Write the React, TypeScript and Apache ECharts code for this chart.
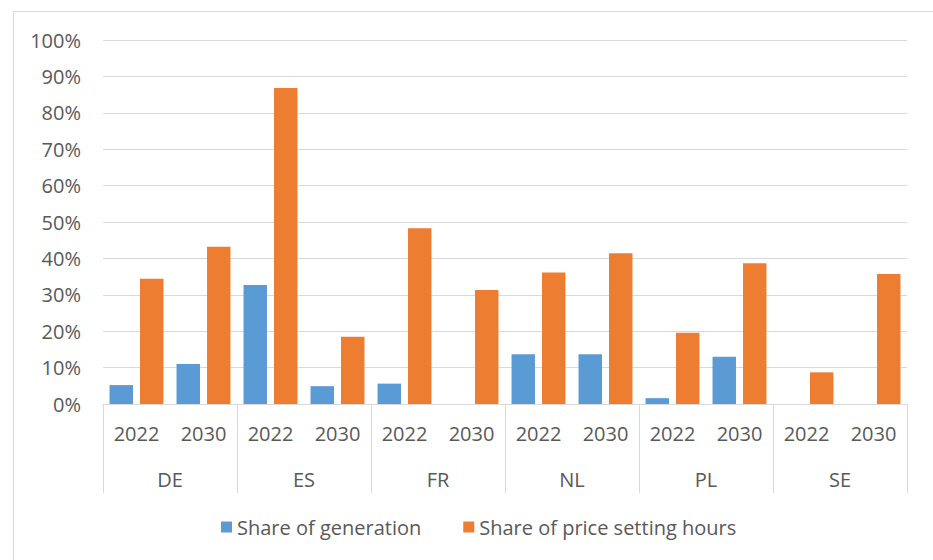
import React, { useEffect, useRef } from "react";
import * as echarts from "echarts";

const countries = ["DE", "ES", "FR", "NL", "PL", "SE"];
const years = ["2022", "2030"];
const shareOfGeneration = [5.2, 11.0, 32.7, 4.9, 5.6, 0, 13.7, 13.7, 1.6, 13.0, 0, 0];
const shareOfPriceSettingHours = [34.4, 43.2, 86.8, 18.5, 48.3, 31.3, 36.1, 41.4, 19.6, 38.7, 8.7, 35.7];
const yTicks = { min: 0, max: 100, interval: 10 };

const FONT = "Open Sans";
const TXT = "#595959";
const GRID = "#d9d9d9";
const FS = 20;

export default function App() {
  const ref = useRef<HTMLDivElement>(null);
  useEffect(() => {
    if (!ref.current) return;
    const chart = echarts.init(ref.current, undefined, { renderer: "svg" });
    const cats: string[] = [];
    countries.forEach((c) => years.forEach((y) => cats.push(c + "-" + y)));
    chart.setOption({
      animation: false,
      backgroundColor: "#ffffff",
      textStyle: { fontFamily: FONT },
      grid: { left: 103, right: 26, top: 40, bottom: 156 },
      graphic: [
        { type: "line", shape: { x1: 13, y1: 11.5, x2: 933, y2: 11.5 }, style: { stroke: GRID, lineWidth: 1 } },
        { type: "line", shape: { x1: 13.5, y1: 11, x2: 13.5, y2: 560 }, style: { stroke: GRID, lineWidth: 1 } },
      ],
      legend: {
        left: 216,
        top: 512,
        itemWidth: 11,
        itemHeight: 11,
        itemGap: 42,
        icon: "rect",
        textStyle: { fontFamily: FONT, fontSize: FS, color: TXT },
        data: ["Share of generation", "Share of price setting hours"],
      },
      xAxis: [
        {
          type: "category",
          data: cats,
          position: "bottom",
          axisLine: { show: false },
          axisTick: { show: false },
          axisLabel: {
            interval: 0,
            margin: 19,
            fontFamily: FONT,
            fontSize: FS,
            color: TXT,
            formatter: (v: string) => v.split("-")[1],
          },
        },
        {
          type: "category",
          data: countries,
          position: "bottom",
          axisLine: { show: true, lineStyle: { color: GRID, width: 1 } },
          axisTick: { show: true, length: 89, interval: 0, lineStyle: { color: GRID, width: 1 } },
          axisLabel: { interval: 0, margin: 65, fontFamily: FONT, fontSize: FS, color: TXT },
        },
      ],
      yAxis: {
        type: "value",
        min: yTicks.min,
        max: yTicks.max,
        interval: yTicks.interval,
        axisLine: { show: false },
        axisTick: { show: false },
        splitLine: { lineStyle: { color: GRID, width: 1 } },
        axisLabel: { margin: 22, fontFamily: FONT, fontSize: FS, color: TXT, formatter: "{value}%" },
      },
      series: [
        {
          name: "Share of generation",
          type: "bar",
          xAxisIndex: 0,
          data: shareOfGeneration,
          barWidth: "35%",
          barGap: "30%",
          itemStyle: { color: "#5B9BD5" },
        },
        {
          name: "Share of price setting hours",
          type: "bar",
          xAxisIndex: 0,
          data: shareOfPriceSettingHours,
          barWidth: "35%",
          barGap: "30%",
          itemStyle: { color: "#ED7D31" },
        },
      ],
    });
    return () => chart.dispose();
  }, []);
  return (
    <div
      ref={ref}
      style={{ position: "absolute", left: 0, top: 0, width: 933, height: 560 }}
    />
  );
}
